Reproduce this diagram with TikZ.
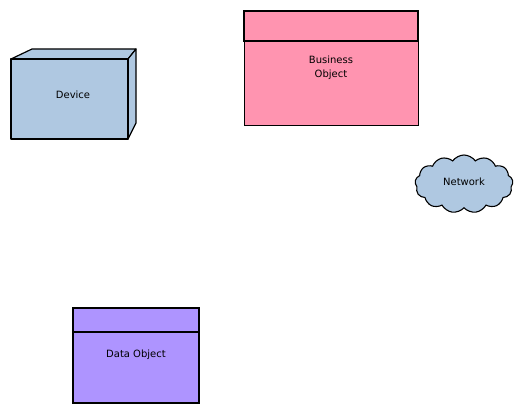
\documentclass[tikz,border=0pt]{standalone}
\usepackage{fontspec}
\setsansfont{DejaVu Sans}
\usetikzlibrary{shapes.symbols}

\definecolor{devblue}{RGB}{175,200,225}
\definecolor{bizpink}{RGB}{255,148,176}
\definecolor{datapurple}{RGB}{174,148,255}

\begin{document}
\begin{tikzpicture}[x=1pt,y=-1pt,
  lbl/.style={font=\sffamily\fontsize{10}{14}\selectfont, align=center},
  edge/.style={draw=black, line width=1.2pt, line join=round}]
\useasboundingbox (0,0) rectangle (524,414);

% === Device ===
\begin{scope}
  % faces
  \filldraw[edge, fill=devblue] (11,59) -- (32,49) -- (136,49) -- (128,59) -- cycle;
  \filldraw[edge, fill=devblue] (128,59) -- (136,49) -- (136,123) -- (128,139) -- cycle;
  \filldraw[edge, fill=devblue] (11,59) rectangle (128,139);
  \node[lbl] (device) at (73,95) {Device};
\end{scope}

% === Business Object ===
\begin{scope}
  \filldraw[fill=bizpink, draw=black, line width=1pt] (244,11) rectangle (418,126);
  \draw[line width=2pt] (244,11) rectangle (418,41); % header
  \node[lbl] (busobj) at (331,68) {Business\\Object};
\end{scope}

% === Network ===
\node[cloud, cloud puffs=13, cloud puff arc=110, aspect=1.7,
      fill=devblue, draw=black, line width=1.1pt,
      minimum width=98pt, minimum height=58pt, inner sep=0pt] (netcloud) at (464,184) {};
\node[lbl] (network) at (464,182) {Network};

% === Data Object ===
\begin{scope}
  \filldraw[fill=datapurple, draw=black, line width=1.7pt] (73,308) rectangle (199,403);
  \draw[line width=1.7pt] (73,308) rectangle (199,332); % header
  \node[lbl] (dataobj) at (136,355) {Data Object};
\end{scope}

\end{tikzpicture}
\end{document}
